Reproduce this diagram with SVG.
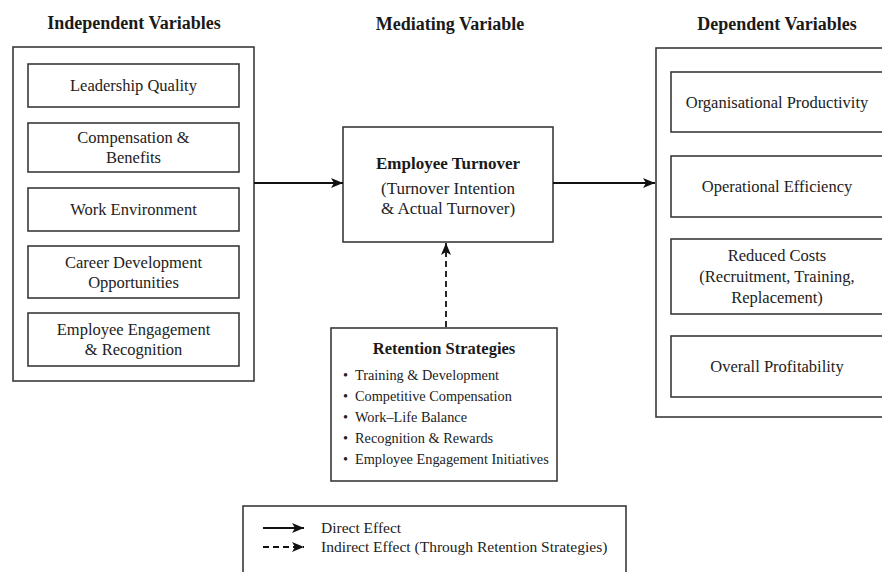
<svg xmlns="http://www.w3.org/2000/svg" width="882" height="572" viewBox="0 0 882 572">
<style>
.bg{fill:#ffffff}
.box{fill:#ffffff;stroke:#3a3a3a;stroke-width:1.6}
.t{font-family:"Liberation Serif","Times New Roman",serif;font-size:16.5px;fill:#222;text-anchor:middle}
.m{font-family:"Liberation Serif","Times New Roman",serif;font-size:17px;fill:#222;text-anchor:middle}
.h{font-family:"Liberation Serif","Times New Roman",serif;font-size:18px;font-weight:bold;fill:#1a1a1a;text-anchor:middle}
.hb{font-family:"Liberation Serif","Times New Roman",serif;font-size:16.5px;font-weight:bold;fill:#1a1a1a;text-anchor:middle}
.b{font-family:"Liberation Serif","Times New Roman",serif;font-size:14.3px;fill:#222}
.l{font-family:"Liberation Serif","Times New Roman",serif;font-size:15.5px;fill:#222}
.c{stroke:#111;stroke-width:1.8;fill:none}
.d{stroke:#111;stroke-width:1.8;fill:none;stroke-dasharray:6 4}
</style>
<defs>
<marker id="ah" viewBox="0 0 12 10" refX="12" refY="5" markerWidth="12" markerHeight="10" markerUnits="userSpaceOnUse" orient="auto">
<path d="M0,0 L12,5 L0,10 L3,5 Z" fill="#111"/>
</marker>
</defs>
<rect class="bg" x="0" y="0" width="882" height="572"/>

<text class="h" x="134" y="29">Independent Variables</text>
<text class="h" x="450" y="30">Mediating Variable</text>
<text class="h" x="777" y="30">Dependent Variables</text>

<g id="independent">
<rect class="box" x="13" y="47" width="241" height="334"/>
</g>
<g id="leadership">
<rect class="box" x="28" y="64" width="211" height="43"/>
<text class="t" x="133.5" y="91">Leadership Quality</text>
</g>
<g id="compensation">
<rect class="box" x="28" y="123" width="211" height="49"/>
<text class="t" x="133.5" y="143">Compensation &amp;</text>
<text class="t" x="133.5" y="163">Benefits</text>
</g>
<g id="environment">
<rect class="box" x="28" y="188" width="211" height="43"/>
<text class="t" x="133.5" y="215">Work Environment</text>
</g>
<g id="career">
<rect class="box" x="28" y="246" width="211" height="52"/>
<text class="t" x="133.5" y="268">Career Development</text>
<text class="t" x="133.5" y="288">Opportunities</text>
</g>
<g id="engagement">
<rect class="box" x="28" y="313" width="211" height="53"/>
<text class="t" x="133.5" y="335">Employee Engagement</text>
<text class="t" x="133.5" y="355">&amp; Recognition</text>
</g>

<g id="turnover">
<rect class="box" x="343" y="127" width="210" height="115"/>
<text class="hb" x="448" y="169" style="font-size:17px">Employee Turnover</text>
<text class="m" x="448" y="194">(Turnover Intention</text>
<text class="m" x="448" y="214">&amp; Actual Turnover)</text>
</g>

<g id="retention">
<rect class="box" x="331" y="328" width="226" height="153"/>
<text class="hb" x="444" y="354">Retention Strategies</text>
<text class="b" x="343" y="380">•</text><text class="b" x="355" y="380">Training &amp; Development</text>
<text class="b" x="343" y="401">•</text><text class="b" x="355" y="401">Competitive Compensation</text>
<text class="b" x="343" y="422">•</text><text class="b" x="355" y="422">Work–Life Balance</text>
<text class="b" x="343" y="443">•</text><text class="b" x="355" y="443">Recognition &amp; Rewards</text>
<text class="b" x="343" y="464">•</text><text class="b" x="355" y="464">Employee Engagement Initiatives</text>
</g>

<g id="dependent">
<rect class="box" x="656" y="48" width="240" height="369"/>
</g>
<g id="productivity">
<rect class="box" x="671" y="72" width="220" height="60"/>
<text class="t" x="777" y="107.5">Organisational Productivity</text>
</g>
<g id="efficiency">
<rect class="box" x="671" y="156" width="220" height="61"/>
<text class="t" x="777" y="192">Operational Efficiency</text>
</g>
<g id="costs">
<rect class="box" x="671" y="239" width="220" height="75"/>
<text class="t" x="777" y="261">Reduced Costs</text>
<text class="t" x="777" y="282">(Recruitment, Training,</text>
<text class="t" x="777" y="303">Replacement)</text>
</g>
<g id="profitability">
<rect class="box" x="671" y="336" width="220" height="61"/>
<text class="t" x="777" y="372">Overall Profitability</text>
</g>

<g id="connectors">
<line class="c" x1="254" y1="183" x2="343" y2="183" marker-end="url(#ah)"/>
<line class="c" x1="553" y1="183" x2="655" y2="183" marker-end="url(#ah)"/>
<line class="d" x1="446" y1="327" x2="446" y2="243" marker-end="url(#ah)"/>
</g>

<g id="legend">
<rect class="box" x="243" y="506" width="383" height="80"/>
<line class="c" x1="263" y1="528" x2="304" y2="528" marker-end="url(#ah)"/>
<line class="d" x1="263" y1="547" x2="304" y2="547" stroke-dasharray="6 4" marker-end="url(#ah)"/>
<text class="l" x="321" y="533">Direct Effect</text>
<text class="l" x="321" y="552">Indirect Effect (Through Retention Strategies)</text>
</g>
</svg>
